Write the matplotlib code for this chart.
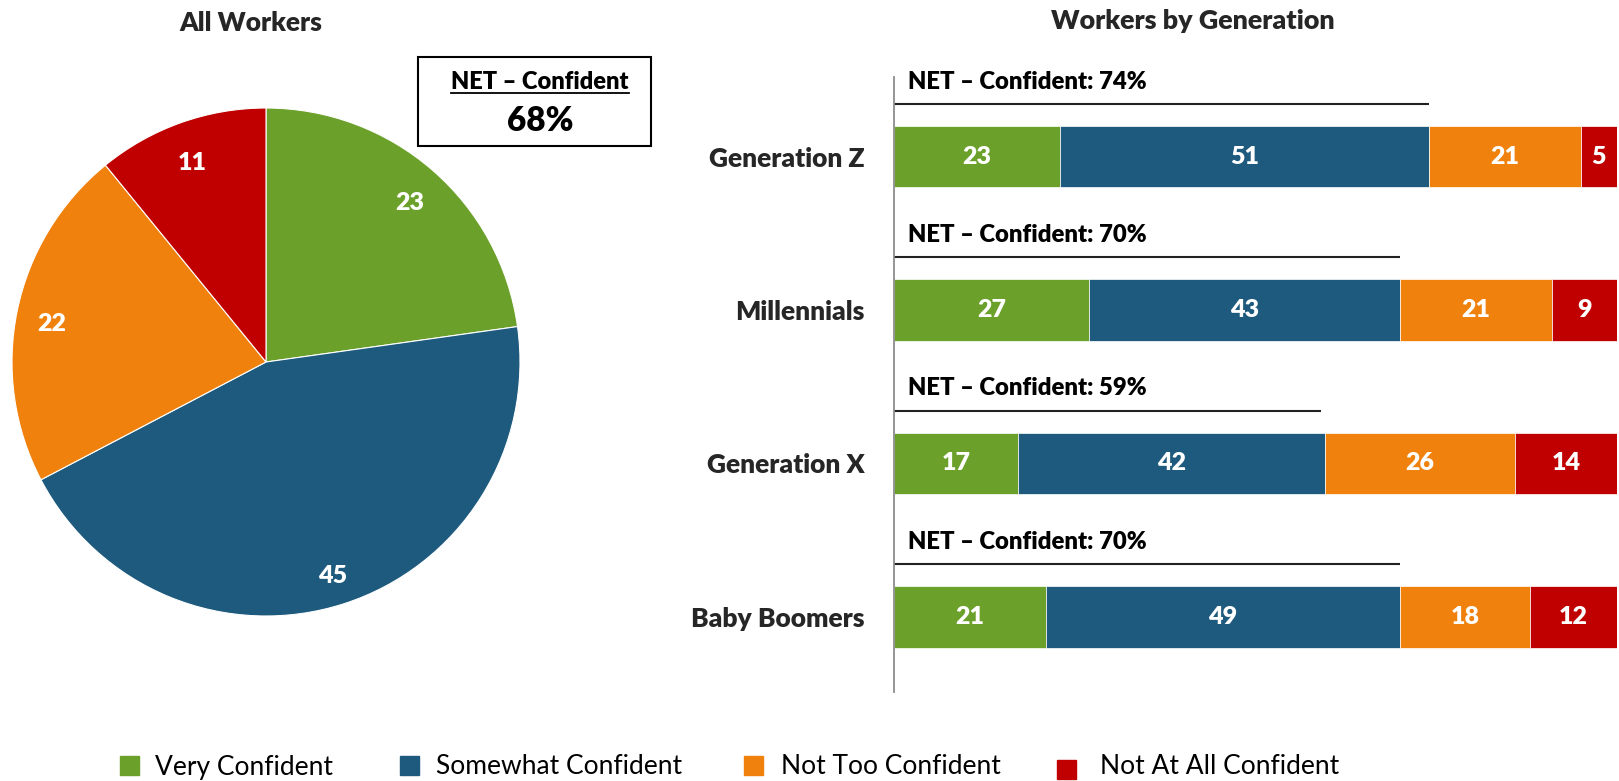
import matplotlib.pyplot as plt
from matplotlib.patches import Rectangle
from matplotlib.lines import Line2D
import numpy as np

plt.rcParams['font.family'] = ['Lato', 'DejaVu Sans']
BOLD = 800

# data
levels = ['Very Confident', 'Somewhat Confident', 'Not Too Confident', 'Not At All Confident']
colors = ['#6BA02B', '#1E5A7D', '#F0810D', '#C00000']

all_workers = [23, 45, 22, 11]
all_net = 68

generations = ['Generation Z', 'Millennials', 'Generation X', 'Baby Boomers']
very = [23, 27, 17, 21]
somewhat = [51, 43, 42, 49]
not_too = [21, 21, 26, 18]
not_at_all = [5, 9, 14, 12]
gen_net = [74, 70, 59, 70]

W, H = 1619, 781
fig = plt.figure(figsize=(W / 100, H / 100), dpi=100)

def fx(px):
    return px / W

def fy(py):
    return 1 - py / H

# ---- pie: all workers
cx, cy, r = 266, 362, 254
ax_pie = fig.add_axes([fx(cx - r), fy(cy + r), 2 * r / W, 2 * r / H])
wedges, _ = ax_pie.pie(all_workers, colors=colors, startangle=90, counterclock=False,
                       wedgeprops=dict(edgecolor='white', linewidth=0.8))
for w, v in zip(wedges, all_workers):
    ang = np.deg2rad((w.theta1 + w.theta2) / 2)
    ax_pie.text(0.86 * np.cos(ang), 0.86 * np.sin(ang) - 0.025, str(v), color='white',
                fontsize=18, fontweight=BOLD, ha='center', va='center')
ax_pie.set_xlim(-1, 1)
ax_pie.set_ylim(-1, 1)
ax_pie.set_aspect('auto')
ax_pie.axis('off')

fig.text(fx(251), fy(23), 'All Workers', fontsize=19, fontweight=BOLD,
         ha='center', va='center', color='#262626')

# NET box with underlined heading
fig.patches.append(Rectangle((fx(418), fy(146)), fx(651) - fx(418), fy(57) - fy(146),
                             transform=fig.transFigure, fill=False, edgecolor='black',
                             linewidth=1.5))
head = fig.text(fx(540), fy(82), 'NET – Confident', fontsize=17, fontweight=BOLD,
                ha='center', va='center')
fig.text(fx(540), fy(121), f'{all_net}%', fontsize=24, fontweight=BOLD,
         ha='center', va='center')
fig.canvas.draw()
bb = head.get_window_extent().transformed(fig.transFigure.inverted())
fig.lines.append(Line2D([bb.x0, bb.x1], [fy(93), fy(93)], transform=fig.transFigure,
                        color='black', linewidth=1.3))

# ---- stacked bars by generation
ax = fig.add_axes([fx(894), fy(692), fx(1617) - fx(894), fy(77) - fy(692)])
ypos = np.arange(len(generations))[::-1]
series = np.array([very, somewhat, not_too, not_at_all], dtype=float)
shares = series / series.sum(axis=0) * 100
left = np.zeros(len(generations))
for vals, pct, c in zip(series, shares, colors):
    ax.barh(ypos, pct, left=left, height=0.4, color=c, edgecolor='white', linewidth=0.5)
    for y, l, p, v in zip(ypos, left, pct, vals):
        ax.text(l + p / 2, y, str(int(v)), color='white', fontsize=18,
                fontweight=BOLD, ha='center', va='center')
    left += pct

for y, net in zip(ypos, gen_net):
    ax.plot([0, net], [y + 0.345, y + 0.345], color='#222222', linewidth=1.5,
            clip_on=False, solid_capstyle='butt')
    ax.text(1.9, y + 0.49, f'NET – Confident: {net}%', fontsize=17.2,
            fontweight=BOLD, ha='left', va='center', color='black')

ax.set_xlim(0, 100)
ax.set_ylim(-0.49, 3.52)
ax.set_yticks(ypos)
ax.set_yticklabels(generations, fontsize=19, fontweight=BOLD, color='#262626')
ax.tick_params(axis='y', length=0, pad=21)
ax.set_xticks([])
for s in ['top', 'right', 'bottom']:
    ax.spines[s].set_visible(False)
ax.spines['left'].set_color('#8c8c8c')
ax.spines['left'].set_linewidth(1.3)

fig.text(fx(1193), fy(21), 'Workers by Generation', fontsize=19.4, fontweight=BOLD,
         ha='center', va='center', color='#262626')

# ---- legend along the bottom
sq_x = [120, 400, 744, 1057]
txt_x = [155, 436, 781, 1100]
sq_y = [756, 756, 756, 760]
for lab, c, sx, tx, sy in zip(levels, colors, sq_x, txt_x, sq_y):
    fig.patches.append(Rectangle((fx(sx), fy(sy + 19)), 19 / W, 19 / H,
                                 transform=fig.transFigure, color=c))
    fig.text(fx(tx), fy(767), lab, fontsize=19, ha='left', va='center', color='black')

fig.savefig('out.png', dpi=100)
